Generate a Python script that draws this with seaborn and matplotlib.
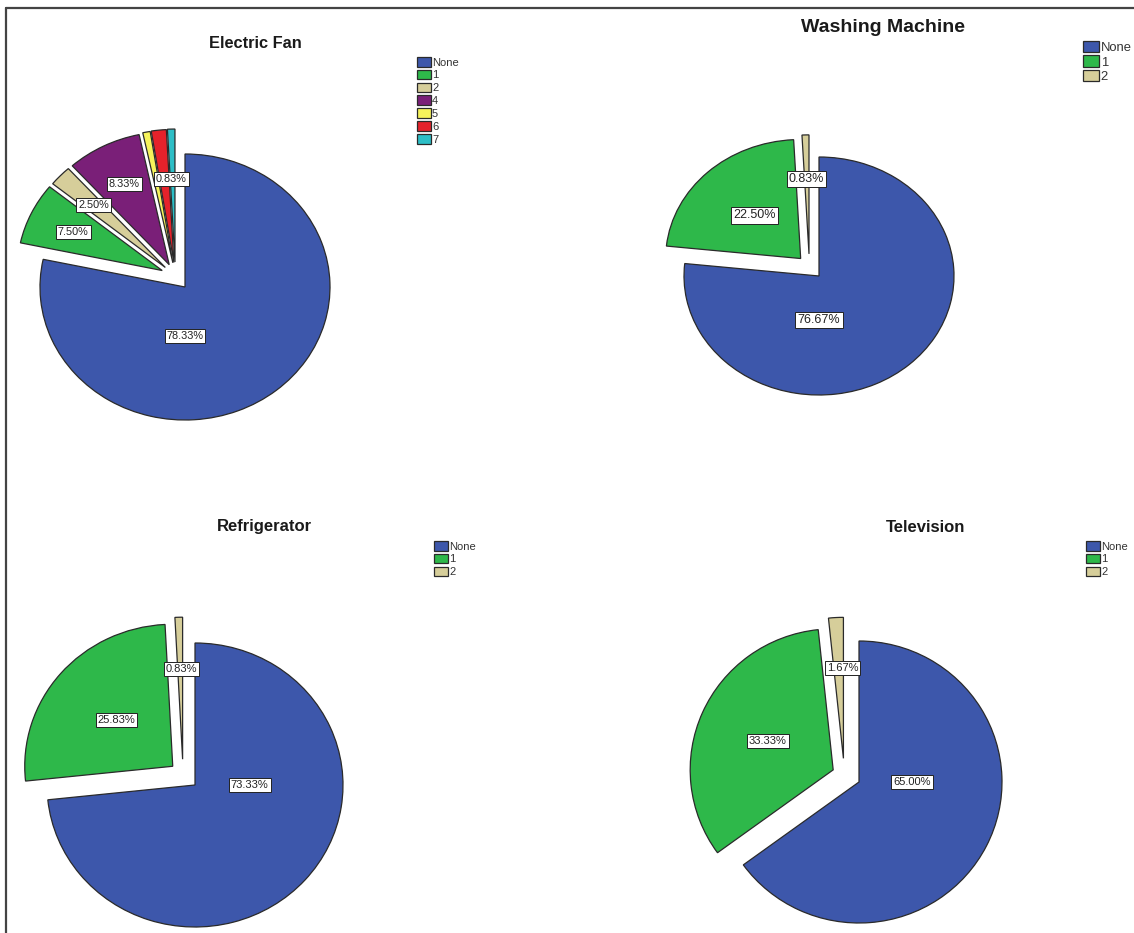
import numpy as np
import matplotlib
matplotlib.use("Agg")
import matplotlib.pyplot as plt
from matplotlib.lines import Line2D
import seaborn as sns

# ---------------- data ----------------
fan_labels = ["None", "1", "2", "4", "5", "6", "7"]
fan_values = [78.33, 7.50, 2.50, 8.33, 0.83, 1.67, 0.83]

wash_labels = ["None", "1", "2"]
wash_values = [76.67, 22.50, 0.83]

fridge_labels = ["None", "1", "2"]
fridge_values = [73.33, 25.83, 0.83]

tv_labels = ["None", "1", "2"]
tv_values = [65.00, 33.33, 1.67]

titles = ["Electric Fan", "Washing Machine", "Refrigerator", "Television"]

# ---------------- style ----------------
sns.set_theme(style="white")
plt.rcParams["font.family"] = ["Liberation Sans", "DejaVu Sans"]

colors = sns.color_palette(["#3D57AB", "#2EB84A", "#D6CE9A", "#7A1F78",
                            "#F6F35B", "#E5222B", "#2DBEC6"])

W, H = 1134, 933
fig = plt.figure(figsize=(W / 100, H / 100), dpi=100)
fig.patch.set_facecolor("white")

# layout (pixels): centre, radii, title, legend, fonts, label placement
layout = [
    dict(c=(185, 287), rx=145, ry=133, title=(255, 44), tfs=11.8, leg=(417, 57), lfs=8,
         lsp=0.2, pfs=7.8, main_ang=-90, frac=0.68, hide=[4, 5]),
    dict(c=(819, 276), rx=135, ry=119, title=(883, 27), tfs=14, leg=(1083, 41), lfs=9.4,
         lsp=0.1, pfs=9, main_ang=-90, frac=0.5, hide=[]),
    dict(c=(195, 785), rx=148, ry=142, title=(264, 527), tfs=12, leg=(434, 541), lfs=8,
         lsp=0.2, pfs=8, main_ang=0, frac=0.5, hide=[]),
    dict(c=(859, 782), rx=143, ry=141, title=(926, 527), tfs=12, leg=(1086, 541), lfs=8,
         lsp=0.2, pfs=8, main_ang=0, frac=0.5, hide=[]),
]

datasets = [(fan_labels, fan_values), (wash_labels, wash_values),
            (fridge_labels, fridge_values), (tv_labels, tv_values)]

L = 1.3
EXPL = 0.2
for (labels, values), lay, title in zip(datasets, layout, titles):
    cx, cy = lay["c"]
    rx, ry = lay["rx"], lay["ry"]
    ax = fig.add_axes([(cx - L * rx) / W, 1 - (cy + L * ry) / H,
                       2 * L * rx / W, 2 * L * ry / H])
    wedges, _ = ax.pie(values, startangle=90, counterclock=False,
                       colors=colors[:len(values)],
                       wedgeprops=dict(edgecolor="#2a2a2a", linewidth=0.9))
    ax.set_aspect("auto")
    ax.set_xlim(-L, L)
    ax.set_ylim(-L, L)
    ax.axis("off")

    # pull the non-"None" slices out, between their own direction and the group's
    others = wedges[1:]
    g_lo = min(w.theta1 for w in others)
    g_hi = max(w.theta2 for w in others)
    g_mid = (g_lo + g_hi) / 2
    for w in others:
        own = (w.theta1 + w.theta2) / 2
        d = np.deg2rad((own + g_mid) / 2)
        w.set_center((EXPL * np.cos(d), EXPL * np.sin(d)))
    for w in wedges:
        w.set_clip_on(False)

    # percentage labels
    for i, (w, v) in enumerate(zip(wedges, values)):
        if i in lay["hide"]:
            continue
        mid = np.deg2rad((w.theta1 + w.theta2) / 2)
        if i == 0:
            a = np.deg2rad(lay["main_ang"])
            x, y = 0.37 * np.cos(a), 0.37 * np.sin(a)
        elif v < 2:
            a = mid + np.deg2rad(5)
            x, y = 0.82 * np.cos(a), 0.82 * np.sin(a)
        else:
            x = w.center[0] + lay["frac"] * np.cos(mid)
            y = w.center[1] + lay["frac"] * np.sin(mid)
        ax.text(x, y, f"{v:.2f}%", ha="center", va="center", fontsize=lay["pfs"],
                color="#222222",
                bbox=dict(boxstyle="square,pad=0.18", fc="white", ec="#222222", lw=0.7))

    # title
    fig.text(lay["title"][0] / W, 1 - lay["title"][1] / H, title, ha="center",
             va="center", fontsize=lay["tfs"], fontweight="bold", color="#1a1a1a")

    # legend
    ax.legend(wedges, labels, loc="upper left",
              bbox_to_anchor=(lay["leg"][0] / W, 1 - lay["leg"][1] / H),
              bbox_transform=fig.transFigure, frameon=False, fontsize=lay["lfs"],
              handlelength=1.25, handleheight=0.95, handletextpad=0.1,
              labelspacing=lay["lsp"], borderpad=0, borderaxespad=0,
              labelcolor="#333333")

# image frame (top and left lines)
fig.add_artist(Line2D([6 / W, 1], [1 - 8 / H, 1 - 8 / H], color="#444444", lw=1.6))
fig.add_artist(Line2D([6 / W, 6 / W], [0, 1 - 8 / H], color="#444444", lw=1.6))

fig.savefig("out.png", dpi=100, facecolor="white")
